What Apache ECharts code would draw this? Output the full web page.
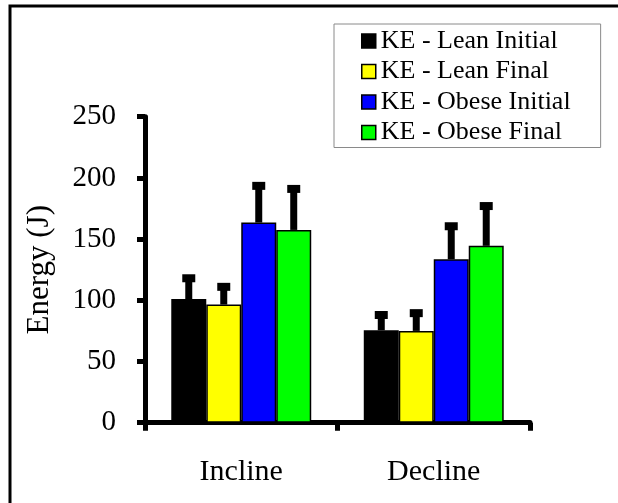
<!DOCTYPE html>
<html>
<head>
<meta charset="utf-8">
<script src="https://cdn.jsdelivr.net/npm/echarts@6/dist/echarts.min.js"></script>
<style>
  html, body { margin: 0; padding: 0; background: #fff; }
  #chart { width: 618px; height: 503px; }
</style>
</head>
<body>
<div id="chart"></div>
<script>
// Kinetic energy by slope condition, mean with upward SD bars
const categories = ['Incline', 'Decline'];
const seriesNames = ['KE - Lean Initial', 'KE - Lean Final', 'KE - Obese Initial', 'KE - Obese Final'];
const seriesColors = ['#000000', '#FFFF00', '#0000FF', '#00FF00'];
const leanInitial = [101, 75.5];
const leanFinal = [96.5, 75];
const obeseInitial = [163.5, 133.5];
const obeseFinal = [157.5, 144.5];
const leanInitialSD = [17, 12.5];
const leanFinalSD = [14.5, 14.5];
const obeseInitialSD = [30, 27];
const obeseFinalSD = [33.5, 32.5];
const yTicks = [0, 50, 100, 150, 200, 250];

const seriesValues = [leanInitial, leanFinal, obeseInitial, obeseFinal];
const seriesSD = [leanInitialSD, leanFinalSD, obeseInitialSD, obeseFinalSD];
const CATEGORY_GAP = 0.273;
const FONT = "'Liberation Serif', 'Times New Roman', serif";

const barSeries = seriesNames.map((name, i) => ({
  name: name,
  type: 'bar',
  data: seriesValues[i],
  barGap: '0%',
  barCategoryGap: (CATEGORY_GAP * 100) + '%',
  itemStyle: { color: seriesColors[i], borderColor: '#000', borderWidth: 1.5 },
  z: 2
}));

// error bar items: [categoryIndex, seriesIndex, mean, sd]
const errItems = [];
seriesValues.forEach((vals, s) => {
  vals.forEach((v, c) => errItems.push([c, s, v, seriesSD[s][c]]));
});

const errorSeries = {
  type: 'custom',
  data: errItems,
  z: 5,
  silent: true,
  renderItem: function (params, api) {
    const c = api.value(0), s = api.value(1), mean = api.value(2), sd = api.value(3);
    const band = api.size([1, 0])[0];
    const barW = band * (1 - CATEGORY_GAP) / seriesNames.length;
    const base = api.coord([c, mean]);
    const top = api.coord([c, mean + sd]);
    const x = base[0] + (s - (seriesNames.length - 1) / 2) * barW;
    return {
      type: 'group',
      children: [
        { type: 'line', shape: { x1: x, y1: base[1], x2: x, y2: top[1] },
          style: { stroke: '#000', lineWidth: 7 } },
        { type: 'rect', shape: { x: x - 6.5, y: top[1] - 4, width: 13, height: 8 },
          style: { fill: '#000' } }
      ]
    };
  }
};

const chart = echarts.init(document.getElementById('chart'));
chart.setOption({
  animation: false,
  backgroundColor: '#fff',
  textStyle: { fontFamily: FONT },
  graphic: [{
    type: 'rect', z: -10,
    shape: { x: 10, y: 6, width: 700, height: 600 },
    style: { fill: 'none', stroke: '#000', lineWidth: 3 }
  }],
  grid: { left: 145, right: 88, top: 116.7, bottom: 80.3, containLabel: false },
  legend: {
    orient: 'vertical',
    left: 334, top: 24,
    data: seriesNames,
    icon: 'rect',
    itemWidth: 14, itemHeight: 14,
    itemGap: 4.5,
    padding: [4, 30, 2, 27],
    borderColor: '#8a8a8a', borderWidth: 1,
    backgroundColor: '#fff',
    itemStyle: { borderColor: '#000', borderWidth: 1.5 },
    textStyle: { fontFamily: FONT, fontSize: 26, color: '#000', lineHeight: 26, padding: [0, 0, 0, 0] },
    selectedMode: false
  },
  xAxis: {
    type: 'category',
    data: categories,
    axisLine: { lineStyle: { color: '#000', width: 5 } },
    axisTick: { show: true, length: 8, lineStyle: { color: '#000', width: 5 } },
    axisLabel: { fontFamily: FONT, fontSize: 30, color: '#000', margin: 34 },
    splitLine: { show: false }
  },
  yAxis: {
    type: 'value',
    min: yTicks[0], max: yTicks[yTicks.length - 1], interval: yTicks[1] - yTicks[0],
    name: 'Energy (J)',
    nameLocation: 'middle',
    nameGap: 90,
    nameTextStyle: { fontFamily: FONT, fontSize: 31, color: '#000' },
    axisLine: { show: true, lineStyle: { color: '#000', width: 5 } },
    axisTick: { show: true, length: 8, lineStyle: { color: '#000', width: 5 } },
    axisLabel: { fontFamily: FONT, fontSize: 29, color: '#000', margin: 29 },
    splitLine: { show: false }
  },
  series: barSeries.concat([errorSeries])
});
</script>
</body>
</html>
